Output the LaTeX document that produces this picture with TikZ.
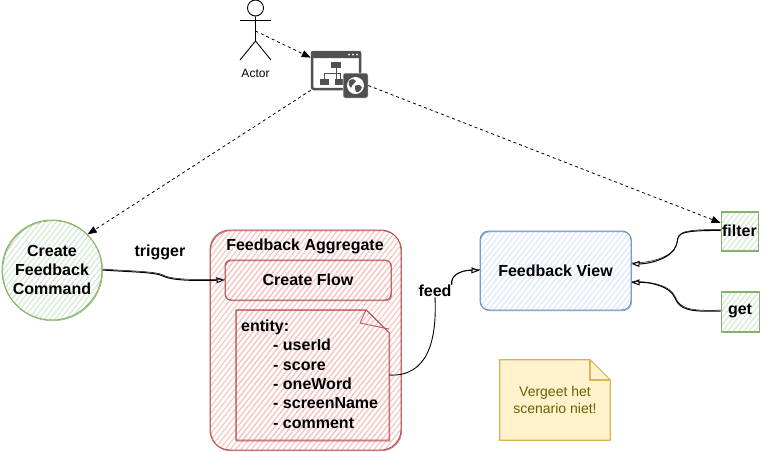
\documentclass[tikz,border=0pt]{standalone}
\usepackage{fontspec}
\setmainfont{Liberation Sans}
\usetikzlibrary{positioning,patterns.meta,arrows.meta}
\definecolor{redline}{HTML}{B85450}
\definecolor{redfill}{HTML}{F6C6C4}
\definecolor{greenline}{HTML}{82B366}
\definecolor{greenfill}{HTML}{D5E8D4}
\definecolor{blueline}{HTML}{6C8EBF}
\definecolor{bluefill}{HTML}{DAE8FC}
\definecolor{noteline}{HTML}{D6B656}
\definecolor{notefill}{HTML}{FFF2CC}
\definecolor{notetext}{HTML}{6B5F00}
\definecolor{icongrey}{HTML}{505050}
\tikzset{
	sketchy/.style n args={2}{
		preaction={pattern={Lines[angle=52,distance=4.2pt,line width=1.2pt]},pattern color=#1},
		draw=#2,line width=1pt,
		postaction={draw=#2,line width=.5pt,transform canvas={shift={(.7pt,-.8pt)}}}},
	boldtext/.style={font=\fontsize{16}{18.6}\selectfont\bfseries,align=center,inner sep=0pt},
	flowarrow/.style={-{Triangle[open,length=8pt,width=6pt]},line width=1pt,
		postaction={draw,-,line width=.5pt,transform canvas={shift={(.4pt,.9pt)}}}},
	visitarrow/.style={-{Triangle[length=9pt,width=7pt]},dash pattern=on 3pt off 3pt,line width=.8pt},
}
\newcommand{\foldsheet}[3]{\draw[#3] (#1.north west) -- ([xshift=-#2]#1.north east) -- ([yshift=-#2]#1.north east)
					-- (#1.south east) -- (#1.south west) -- cycle;}
\begin{document}
\begin{tikzpicture}[x=1pt,y=-1pt]
	\useasboundingbox (0,0) rectangle (761,451);

	\node[circle,minimum size=100pt,inner sep=0pt,sketchy={greenfill}{greenline},boldtext] (command) at (52,270) {Create\\Feedback\\Command};

	\node[rectangle,rounded corners=20pt,minimum width=191pt,minimum height=220pt,inner sep=0pt,sketchy={redfill}{redline}] (aggregate) at (305.5,340) {};
	\node[boldtext] (aggregatetitle) at (305,246) {Feedback Aggregate};
	\node[rectangle,rounded corners=6pt,minimum width=166pt,minimum height=40pt,sketchy={redfill}{redline},boldtext] (flow) at (308,280) {Create Flow};

	\node[rectangle,minimum width=153pt,minimum height=130pt,inner sep=0pt] (entity) at (312.5,375) {};
	\foldsheet{entity}{23pt}{sketchy={redfill}{redline}}
	\draw[redline,line width=.8pt] (366,310) -- (360,323) -- (389,329);
	\node[boldtext,align=left,font=\fontsize{16}{19.4}\selectfont\bfseries,anchor=west] (entitytext) at (241,374) {entity:\\
		\hspace*{32pt}- userId\\
		\hspace*{32pt}- score\\
		\hspace*{32pt}- oneWord\\
		\hspace*{32pt}- screenName\\
		\hspace*{32pt}- comment};

	\node[rectangle,rounded corners=9pt,minimum width=151pt,minimum height=79pt,sketchy={bluefill}{blueline},boldtext] (view) at (555.5,270.5) {Feedback View};
	\node[rectangle,minimum width=37pt,minimum height=39pt,sketchy={greenfill}{greenline},boldtext] (filter) at (739.5,230.5) {filter};
	\node[rectangle,minimum width=38pt,minimum height=40pt,sketchy={greenfill}{greenline},boldtext] (get) at (740,311) {get};

	\node[rectangle,minimum width=110pt,minimum height=80pt,inner sep=0pt] (reminder) at (555,400) {};
	\foldsheet{reminder}{20pt}{draw=noteline,fill=notefill,line width=1.2pt}
	\draw[noteline,line width=1.2pt] (590,360) -- (590,380) -- (610,380);
	\node[font=\fontsize{14}{17}\selectfont,text=notetext,align=center,inner sep=0pt] (remindertext) at (555,400) {Vergeet het\\scenario niet!};

	% actor
	\node[circle,draw,line width=.9pt,minimum size=16pt,inner sep=0pt] (head) at (255.5,8) {};
	\coordinate (hip) at (255.5,41);
	\coordinate (chest) at (255.5,31);
	\draw[line width=.9pt] (head) -- (hip) -- (240,60);
	\draw[line width=.9pt] (hip) -- (271,60);
	\draw[line width=.9pt] (240,20) -- (271,20);
	\node[font=\fontsize{12}{13}\selectfont,inner sep=0pt] (actorlabel) at (255.5,73.5) {Actor};

	% site icon
	\node[rectangle,rounded corners=2pt,draw=icongrey,line width=2.5pt,minimum width=48pt,minimum height=37pt,inner sep=0pt] (window) at (336,70.5) {};
	\fill[icongrey,rounded corners=1pt] (311,51) rectangle (361,58);
	\foreach \dotx in {349,353,357} {
		\fill[white] (\dotx,54.5) circle (1pt);
	}
	\fill[icongrey] (331,62) rectangle (341,67.5);
	\fill[icongrey] (320,79) rectangle (329,84.5);
	\fill[icongrey] (335,79) rectangle (344,84.5);
	\draw[icongrey,line width=1pt] (336,67) -- (336,80) (324.5,80) -- (324.5,73.5) -- (340,73.5) -- (340,80);
	\node[rectangle,rounded corners=2pt,fill=icongrey,draw=white,line width=.5pt,minimum size=25pt,inner sep=0pt] (globe) at (355.5,85.5) {};
	\fill[white] (355.5,85.5) circle (8.5pt);
	\fill[icongrey] (349,81) .. controls (352,78) and (355,79) .. (356,81) .. controls (355,84) and (352,84) .. (351,88) .. controls (349,86) and (348,84) .. (349,81);
	\fill[icongrey] (355,86) .. controls (358,84) and (361,85) .. (362,87) .. controls (361,91) and (358,93) .. (356,92) .. controls (356,90) and (354,88) .. (355,86);

	\draw[visitarrow] (chest) -- (window.153);
	\draw[visitarrow] (window.south west) -- (command.45);
	\draw[visitarrow] (globe.east) -- (filter.158);

	\draw[flowarrow] (command.east) .. controls (130,272) and (155,272) .. (163,276) .. controls (170,280) and (190,281) .. (flow.west);
	\node[boldtext] (trigger) at (160,252) {trigger};
	\node[boldtext] (feed) at (435,291) {feed};
	\draw[line width=.9pt] (entity.east) .. controls (428,377) and (437,340) .. (feed.south);
	\draw[flowarrow] (feed.north east) .. controls (450,276) and (460,270) .. (view.west);
	\draw[flowarrow] (filter.west) .. controls (670,230) and (680,236) .. (676,246) .. controls (672,258) and (650,264) .. (view.5);
	\draw[flowarrow] (get.west) .. controls (690,312) and (680,310) .. (675,298) .. controls (670,286) and (650,282) .. (view.-9);
\end{tikzpicture}
\end{document}
